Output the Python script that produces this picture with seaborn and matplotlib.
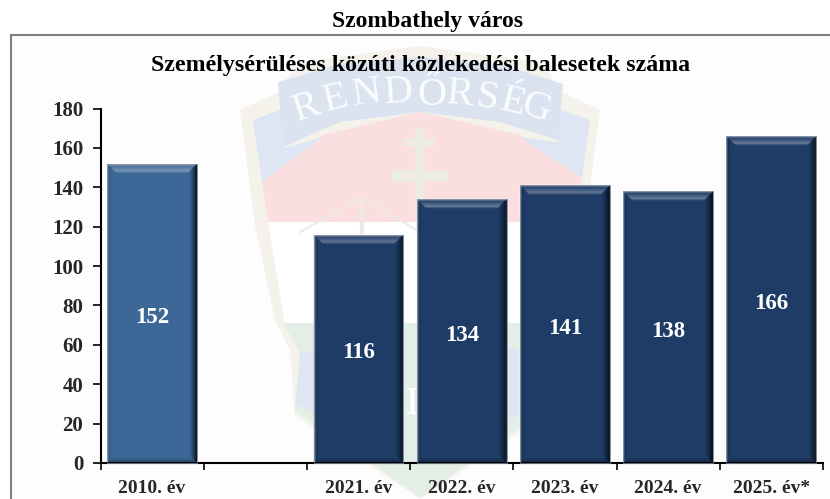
import numpy as np
import pandas as pd
import seaborn as sns
import matplotlib.pyplot as plt
from matplotlib.patches import Polygon
from matplotlib.transforms import IdentityTransform

years = ['2010. év', ' ', '2021. év', '2022. év', '2023. év', '2024. év', '2025. év*']
accidents = [152, np.nan, 116, 134, 141, 138, 166]
bar_colours = ['#3c6797', '#ffffff', '#1e3c66', '#1e3c66', '#1e3c66', '#1e3c66', '#1e3c66']
y_ticks = [0, 20, 40, 60, 80, 100, 120, 140, 160, 180]
main_title = 'Szombathely város'
sub_title = 'Személysérüléses közúti közlekedési balesetek száma'

sns.set_style('ticks')
plt.rcParams['font.family'] = ['Liberation Serif', 'DejaVu Serif']
plt.rcParams['font.weight'] = 'bold'

fig = plt.figure(figsize=(8.30, 4.99), dpi=100)

# background: frame + faded police crest, drawn in pixel coords
bg = fig.add_axes([0, 0, 1, 1], zorder=0)
bg.set_xlim(0, 830)
bg.set_ylim(499, 0)
bg.axis('off')
bg.fill_between([11, 830], 35, 499, color='#fdfdfd', lw=0)

crest = [
    ('#f5f2ec', [(240, 110), (278, 92), (300, 62), (420, 46), (540, 62), (562, 92), (600, 110),
                 (585, 225), (565, 320), (550, 350), (545, 415), (420, 499), (295, 415), (290, 350),
                 (275, 320), (255, 225)]),
    ('#ffffff', [(268, 222), (573, 222), (556, 325), (285, 325)]),
    ('#e3eee6', [(283, 323), (556, 323), (540, 352), (545, 410), (420, 497), (295, 410), (300, 352)]),
    ('#fbdfe0', [(262, 182), (323, 135), (420, 112), (520, 135), (582, 178), (573, 222), (268, 222)]),
    ('#dfe6f3', [(253, 120), (286, 108), (284, 148), (323, 137), (262, 182)]),
    ('#dfe6f3', [(590, 120), (555, 108), (558, 142), (520, 137), (582, 178)]),
    ('#dbe3f1', [(278, 82), (340, 64), (420, 57), (500, 64), (563, 84), (558, 140), (500, 122),
                 (420, 112), (340, 122), (283, 147)]),
    ('#dfe6f3', [(300, 352), (390, 345), (382, 420), (330, 418), (296, 405)]),
    ('#dfe6f3', [(540, 352), (470, 345), (478, 405), (510, 418), (545, 405)]),
    ('#ececE4', [(415, 128), (425, 128), (425, 170), (448, 170), (448, 182), (425, 182), (425, 222),
                 (415, 222), (415, 182), (392, 182), (392, 170), (415, 170)]),
    ('#ececE4', [(405, 138), (435, 138), (435, 146), (405, 146)]),
]
for col, pts in crest:
    bg.add_patch(Polygon(pts, closed=True, fc=col, ec='none'))
bg.plot([300, 362, 420], [232, 198, 232], color='#eeeae3', lw=1.5)
bg.plot([362, 362], [198, 262], color='#eeeae3', lw=3)
bg.text(412, 405, 'I', color='white', fontsize=28, ha='center', va='center', fontweight='normal')

wm_letters = ['R', 'E', 'N', 'D', 'Ő', 'R', 'S', 'É', 'G']
wm_x = [307, 336, 367, 399, 432, 460, 487, 513, 536]
wm_y = [108, 99, 94, 93, 95, 95, 98, 103, 108]
wm_rot = [18, 13, 8, 4, 0, -5, -9, -14, -18]
for ch, x, y, r in zip(wm_letters, wm_x, wm_y, wm_rot):
    bg.text(x, y, ch, color='#fbfcfe', fontsize=29, ha='center', va='center',
            rotation=r, fontweight='normal')

bg.plot([11, 11, 830], [499, 34.5, 34.5], color='#7f7f7f', lw=1.5, solid_joinstyle='miter')

# the chart
ax = fig.add_axes([100.5 / 830, 1 - 463 / 499, 722.5 / 830, 354.5 / 499], zorder=1)
ax.patch.set_alpha(0)
df = pd.DataFrame({'year': years, 'n': accidents})
sns.barplot(data=df, x='year', y='n', hue='year', palette=bar_colours, width=0.87,
            saturation=1, legend=False, dodge=False, ax=ax)
ax.set_xlim(-0.5, 6.5)
ax.set_ylim(0, 180)
ax.set_yticks(y_ticks)
ax.set_xlabel('')
ax.set_ylabel('')
sns.despine(ax=ax)
for side in ['left', 'bottom']:
    ax.spines[side].set_linewidth(1.5)
    ax.spines[side].set_color('black')
ax.set_xticks(np.arange(-0.5, 7), minor=True)
ax.tick_params(axis='x', which='major', length=0, pad=12.5, labelsize=14)
ax.tick_params(axis='x', which='minor', length=5, width=1.2, color='black')
ax.tick_params(axis='y', length=6, width=1.2, color='black', pad=6.5, labelsize=15)

for cont in ax.containers:
    ax.bar_label(cont, label_type='center', color='white', fontsize=16.5, fontweight='bold',
                 fmt='%.0f', padding=-3, zorder=6)

fig.canvas.draw()


def shade(pts, col, alpha):
    ax.add_patch(Polygon(pts, closed=True, fc=col, ec='none', alpha=alpha,
                         transform=IdentityTransform(), zorder=3, clip_on=False))


# bevel effect on each bar
for bar in ax.patches:
    if not bar.get_height() > 0:
        continue
    bb = bar.get_window_extent()
    x0, x1, y0, y1 = bb.x0, bb.x1, bb.y0, bb.y1
    # right edge darkest, left only a little
    for i in range(8):
        a = 0.8 * (1 - i / 8) ** 1.5
        shade([(x1 - i, y0 + i), (x1 - i - 1, y0 + i + 1), (x1 - i - 1, y1 - i - 1), (x1 - i, y1 - i)], 'black', a)
    for i in range(4):
        a = 0.22 * (1 - i / 4)
        shade([(x0 + i, y0 + i), (x0 + i + 1, y0 + i + 1), (x0 + i + 1, y1 - i - 1), (x0 + i, y1 - i)], 'black', a)
    # bottom dark strip
    for i in range(5):
        a = 0.35 * (1 - i / 5)
        shade([(x0 + i, y0 + i), (x1 - i, y0 + i), (x1 - i - 1, y0 + i + 1), (x0 + i + 1, y0 + i + 1)], 'black', a)
    # top light strip, brightest near its lower edge
    top_alpha = [0.0, 0.03, 0.07, 0.12, 0.17, 0.23, 0.29, 0.3, 0.14, 0.03]
    for i, a in enumerate(top_alpha):
        shade([(x0 + i, y1 - i), (x1 - i, y1 - i), (x1 - i - 1, y1 - i - 1), (x0 + i + 1, y1 - i - 1)], 'white', a)
    ax.add_patch(Polygon([(x0, y0), (x0, y1), (x1, y1), (x1, y0)], closed=True, fc='none', ec='#6f7f94',
                         lw=0.6, transform=IdentityTransform(), zorder=4, clip_on=False))

fig.text(427 / 830, 1 - 22 / 499, main_title, ha='center', va='center', fontsize=17, fontweight='bold', color='black')
fig.text(420.5 / 830, 1 - 66 / 499, sub_title, ha='center', va='center', fontsize=17.2, fontweight='bold', color='black')

plt.savefig('out.png', dpi=100)
